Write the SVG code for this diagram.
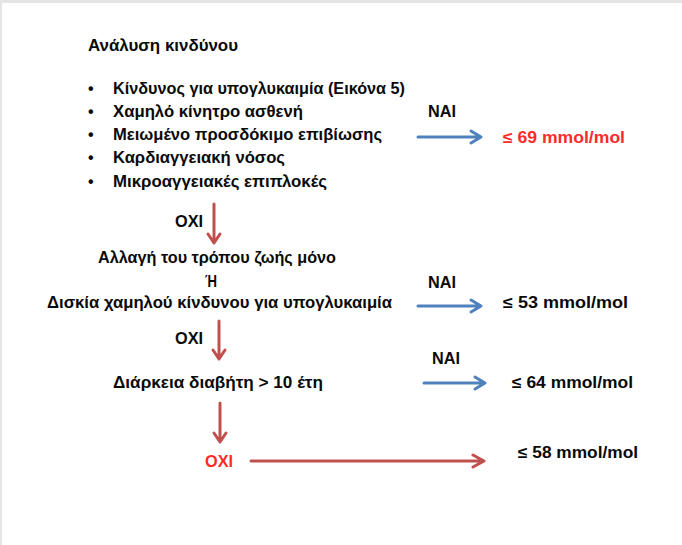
<svg xmlns="http://www.w3.org/2000/svg" width="682" height="545" viewBox="0 0 682 545">
<style>
text{font-family:"Liberation Sans","DejaVu Sans",Arial,sans-serif;font-weight:bold;font-size:16px;fill:#0a0a0a}
.red{fill:#ff2a2a}
.blue{stroke:#4f81bd;stroke-width:3;fill:none;stroke-linecap:round;stroke-linejoin:round}
.redl{stroke:#c0504d;stroke-width:3;fill:none;stroke-linecap:round;stroke-linejoin:round}
</style>
<rect x="0" y="0" width="682" height="545" fill="#e4e5e7"/>
<rect x="2" y="3" width="680" height="542" fill="#ffffff"/>

<g id="risk">
<text x="88" y="51" textLength="150" lengthAdjust="spacingAndGlyphs">Ανάλυση κινδύνου</text>
<text x="88" y="94">•</text>
<text x="113" y="94" textLength="292" lengthAdjust="spacingAndGlyphs">Κίνδυνος για υπογλυκαιμία (Εικόνα 5)</text>
<text x="88" y="117">•</text>
<text x="113" y="117" textLength="190" lengthAdjust="spacingAndGlyphs">Χαμηλό κίνητρο ασθενή</text>
<text x="88" y="140">•</text>
<text x="113" y="140" textLength="269" lengthAdjust="spacingAndGlyphs">Μειωμένο προσδόκιμο επιβίωσης</text>
<text x="88" y="163">•</text>
<text x="113" y="163" textLength="172" lengthAdjust="spacingAndGlyphs">Καρδιαγγειακή νόσος</text>
<text x="88" y="187">•</text>
<text x="113" y="187" textLength="214" lengthAdjust="spacingAndGlyphs">Μικροαγγειακές  επιπλοκές</text>
</g>

<g id="target1">
<text class="red" x="503" y="143" textLength="122" lengthAdjust="spacingAndGlyphs">≤ 69 mmol/mol</text>
</g>

<g id="lifestyle">
<text x="98" y="263" textLength="238" lengthAdjust="spacingAndGlyphs">Αλλαγή του τρόπου ζωής μόνο</text>
<text x="205" y="287" textLength="12" lengthAdjust="spacingAndGlyphs">Ή</text>
<text x="47" y="308" textLength="345" lengthAdjust="spacingAndGlyphs">Δισκία χαμηλού κίνδυνου για υπογλυκαιμία</text>
</g>

<g id="target2">
<text x="503" y="308" textLength="125" lengthAdjust="spacingAndGlyphs">≤ 53 mmol/mol</text>
</g>

<g id="duration">
<text x="113" y="388" textLength="210" lengthAdjust="spacingAndGlyphs">Διάρκεια διαβήτη &gt; 10 έτη</text>
</g>

<g id="target3">
<text x="512" y="388" textLength="121" lengthAdjust="spacingAndGlyphs">≤ 64 mmol/mol</text>
</g>

<g id="no-final">
<text class="red" x="205" y="467" textLength="28" lengthAdjust="spacingAndGlyphs">OXI</text>
</g>

<g id="target4">
<text x="518" y="458" textLength="120" lengthAdjust="spacingAndGlyphs">≤ 58 mmol/mol</text>
</g>

<g id="connectors">
<text x="428" y="117" textLength="28" lengthAdjust="spacingAndGlyphs">NAI</text>
<path class="blue" d="M418 137H481M471 131L481 137L471 143"/>
<text x="175" y="227" textLength="28" lengthAdjust="spacingAndGlyphs">OXI</text>
<path class="redl" d="M214 204V243M208 234L214 243L220 234"/>
<text x="428" y="288" textLength="28" lengthAdjust="spacingAndGlyphs">NAI</text>
<path class="blue" d="M418 306H481M471 300L481 306L471 312"/>
<text x="175" y="344" textLength="28" lengthAdjust="spacingAndGlyphs">OXI</text>
<path class="redl" d="M219 321V359M213 350L219 359L225 350"/>
<text x="432" y="364" textLength="28" lengthAdjust="spacingAndGlyphs">NAI</text>
<path class="blue" d="M424 383H485M475 377L485 383L475 389"/>
<path class="redl" d="M220 403V442M214 433L220 442L226 433"/>
<path class="redl" d="M251 461H484M473 455L484 461L473 467"/>
</g>
</svg>
